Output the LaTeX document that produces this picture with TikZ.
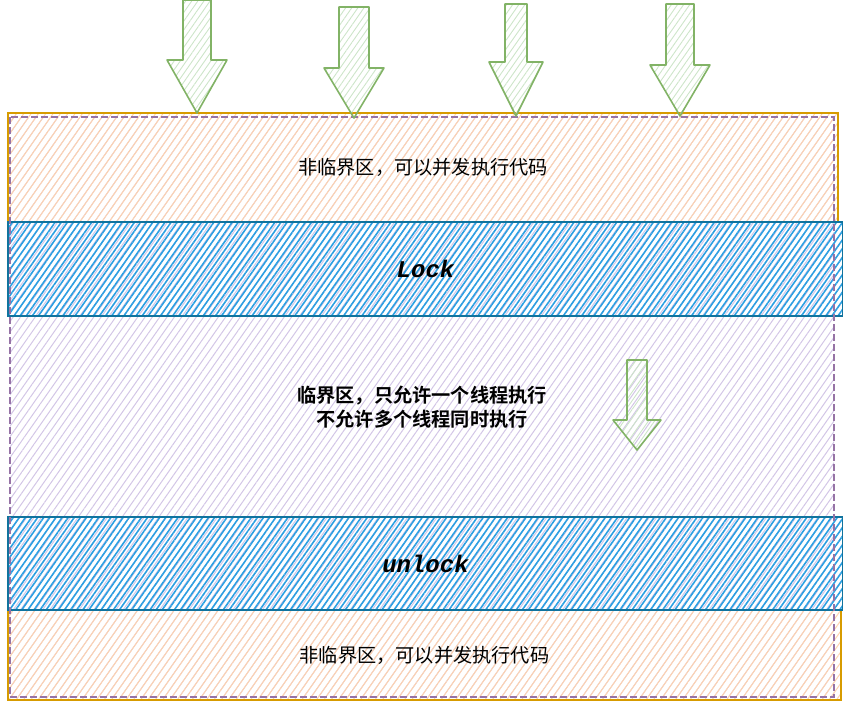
\documentclass[tikz,border=0pt]{standalone}
\usepackage{fontspec}
\usepackage{xcolor}
\newfontfamily\cjk[BoldFont={Noto Sans CJK SC Bold}]{Noto Sans CJK SC}
\newfontfamily\codefont{Liberation Mono}
\usetikzlibrary{
    patterns.meta,
    positioning
}

\definecolor{orangeline}{HTML}{D79B00}
\definecolor{orangehatch}{HTML}{FFD3AE}
\definecolor{purpleline}{HTML}{9673A6}
\definecolor{purplehatch}{HTML}{D3C6E6}
\definecolor{blueline}{HTML}{10739E}
\definecolor{bluehatch}{HTML}{2C9FE2}
\definecolor{greenline}{HTML}{82B366}
\definecolor{greenhatch}{HTML}{CDE5C9}

% down arrow: x, top, tip, shaft half width, head half width, head start
\newcommand{\downblock}[6]{%
    \draw[thread] (#1-#4,#2) -- (#1+#4,#2) -- (#1+#4,#6) -- (#1+#5,#6)
        -- (#1,#3) -- (#1-#5,#6) -- (#1-#4,#6) -- cycle;
}

\begin{document}
\begin{tikzpicture}[
    x=1pt, y=-1pt,
    font=\cjk\fontsize{19.2}{24}\selectfont,
    zone/.style={
        rectangle,
        inner sep=0pt,
        outer sep=0pt,
        align=center
    },
    free/.style={
        zone,
        draw=orangeline,
        line width=1.8pt,
        pattern={Lines[angle=55,distance=6pt,line width=1pt]},
        pattern color=orangehatch
    },
    guard/.style={
        zone,
        draw=blueline,
        line width=1.5pt,
        pattern={Lines[angle=55,distance=5pt,line width=1.6pt]},
        pattern color=bluehatch,
        font=\codefont\bfseries\itshape\fontsize{24}{26}\selectfont
    },
    critical/.style={
        zone,
        pattern={Lines[angle=55,distance=6pt,line width=1pt]},
        pattern color=purplehatch,
        font=\cjk\bfseries\fontsize{19.2}{24}\selectfont
    },
    border/.style={
        draw=purpleline,
        line width=1.2pt,
        dash pattern=on 7pt off 3pt
    },
    thread/.style={
        draw=greenline,
        line width=1.6pt,
        line join=round,
        pattern={Lines[angle=55,distance=5pt,line width=0.9pt]},
        pattern color=greenhatch
    }
]
\useasboundingbox (0,0) rectangle (843,702);

% =========================================================
% Critical section (behind everything)
% =========================================================
\node[critical, minimum width=824pt, minimum height=580pt] (section) at (422,407)
{临界区，只允许一个线程执行\\不允许多个线程同时执行};

% =========================================================
% Free zones
% =========================================================
\node[free, minimum width=830pt, minimum height=109pt] (entry) at (423,167.5)
{非临界区，可以并发执行代码};

\node[free, minimum width=833pt, minimum height=90pt] (exit) at (424.5,655)
{非临界区，可以并发执行代码};

% =========================================================
% Lock / unlock bars
% =========================================================
\node[guard, minimum width=835pt, minimum height=94pt] (lockbar) at (425.5,269)
{Lock};

\node[guard, minimum width=835pt, minimum height=93pt] (unlockbar) at (425.5,563.5)
{unlock};

\draw[border] (section.north west) rectangle (section.south east);

% =========================================================
% Incoming threads
% =========================================================
\downblock{197}{0}{113}{14}{30}{60}
\downblock{354}{7}{118}{15}{30}{68}
\downblock{516}{4}{116}{11}{27}{62}
\downblock{680}{4}{116}{14}{30}{65}

% thread inside the critical section
\downblock{637}{360}{450}{10}{24}{420}

\end{tikzpicture}
\end{document}
